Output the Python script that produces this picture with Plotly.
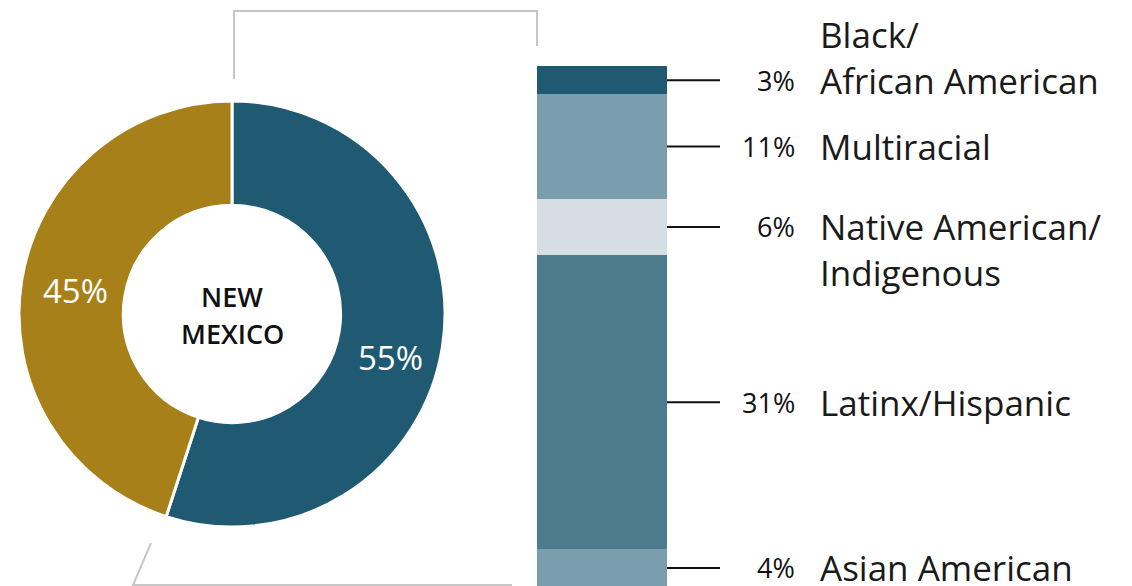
import plotly.graph_objects as go

# Donut: share of population by group
donut_labels = ["People of color", "White"]
donut_values = [55, 45]
donut_text = ["55%", "45%"]
donut_colors = ["#205a72", "#a88019"]

# Stacked bar: breakdown of the 55%
groups = [["Black/", "African American"], ["Multiracial"], ["Native American/", "Indigenous"],
          ["Latinx/Hispanic"], ["Asian American"]]
group_values = [3, 11, 6, 31, 4]
group_text = ["3%", "11%", "6%", "31%", "4%"]
group_colors = ["#205a72", "#7a9eab", "#d4dee3", "#4c7b8e", "#7a9eab"]

W, H = 1132, 586
FONT = "Open Sans"


def px(x):
    return x / W


def py(y):
    return 1 - y / H


fig = go.Figure()

fig.add_trace(go.Pie(
    labels=donut_labels, values=donut_values, hole=0.51, sort=False,
    direction="clockwise", rotation=0,
    marker=dict(colors=donut_colors, line=dict(color="white", width=3)),
    textinfo="none", showlegend=False, hoverinfo="label+value",
    domain=dict(x=[px(19), px(445)], y=[py(527), py(101)]),
))

for vals, col, name in zip(group_values, group_colors, groups):
    fig.add_trace(go.Bar(
        x=["NM"], y=[vals], marker=dict(color=col, line=dict(width=0)),
        name=" ".join(name), showlegend=False, xaxis="x", yaxis="y",
    ))

# Axis scale: ~9.47 px per percentage point, bar top at 66 px
k = 9.47
top_px = 66
y_range = [(H - top_px) / k, -top_px / k]

annotations = [
    dict(text="NEW", x=px(232), y=py(296), xref="paper", yref="paper", showarrow=False,
         font=dict(family=FONT, size=27, color="#111", weight=600),
         xanchor="center", yanchor="middle"),
    dict(text="MEXICO", x=px(232), y=py(333), xref="paper", yref="paper", showarrow=False,
         font=dict(family=FONT, size=27, color="#111", weight=600),
         xanchor="center", yanchor="middle"),
    dict(text=donut_text[1], x=px(75), y=py(290), xref="paper", yref="paper", showarrow=False,
         font=dict(family=FONT, size=33, color="white"), xanchor="center", yanchor="middle"),
    dict(text=donut_text[0], x=px(390), y=py(357), xref="paper", yref="paper", showarrow=False,
         font=dict(family=FONT, size=33, color="white"), xanchor="center", yanchor="middle"),
]

shapes = []
line_gap = 46
cum = 0
for vals, lab, pct in zip(group_values, groups, group_text):
    mid = cum + vals / 2
    cum += vals
    shapes.append(dict(type="line", xref="paper", yref="y", x0=px(667), x1=px(720),
                       y0=mid, y1=mid, line=dict(color="#111", width=2)))
    annotations.append(dict(text=pct, x=px(797), y=mid, xref="paper", yref="y", showarrow=False,
                            xanchor="right", yanchor="middle",
                            font=dict(family=FONT, size=27, color="#111")))
    if len(lab) == 2 and lab[1] == "African American":
        offsets = [line_gap, 0]
    else:
        offsets = [-i * line_gap for i in range(len(lab))]
    for txt, off in zip(lab, offsets):
        annotations.append(dict(text=txt, x=px(818), y=mid, yshift=off, xref="paper", yref="y",
                                showarrow=False, xanchor="left", yanchor="middle",
                                font=dict(family=FONT, size=35, color="#1a1a1a")))

# Connector lines from donut to bar
grey = "#c6c6c6"
shapes.append(dict(type="path", xref="paper", yref="paper",
                   path=f"M {px(234)} {py(79)} L {px(234)} {py(11)} L {px(537)} {py(11)} L {px(537)} {py(46)}",
                   line=dict(color=grey, width=2)))
shapes.append(dict(type="path", xref="paper", yref="paper",
                   path=f"M {px(151)} {py(543)} L {px(133)} {py(585)} L {px(512)} {py(585)}",
                   line=dict(color=grey, width=2)))

fig.update_layout(
    width=W, height=H, margin=dict(l=0, r=0, t=0, b=0),
    paper_bgcolor="white", plot_bgcolor="rgba(0,0,0,0)",
    barmode="stack", bargap=0,
    xaxis=dict(domain=[px(537), px(667)], visible=False, fixedrange=True),
    yaxis=dict(domain=[0, 1], range=y_range, visible=False, fixedrange=True),
    annotations=annotations, shapes=shapes,
    font=dict(family=FONT),
)

fig.write_html("out.html")
